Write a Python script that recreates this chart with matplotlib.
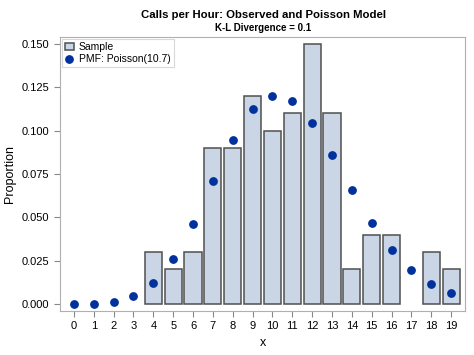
import matplotlib
matplotlib.use('Agg')
import matplotlib.pyplot as plt
import numpy as np

plt.rcParams['font.family'] = ['Liberation Sans', 'DejaVu Sans']

# datos
x = list(range(20))
sample = [0, 0, 0, 0, 0.03, 0.02, 0.03, 0.09, 0.09, 0.12,
          0.10, 0.11, 0.15, 0.11, 0.02, 0.04, 0.04, 0, 0.03, 0.02]
pmf = [0.0000, 0.0002, 0.0012, 0.0045, 0.0121, 0.0259, 0.0463, 0.0707, 0.0945, 0.1123,
       0.1202, 0.1168, 0.1042, 0.0858, 0.0656, 0.0468, 0.0313, 0.0197, 0.0117, 0.0066]

fig = plt.figure(figsize=(4.74, 3.55), dpi=100)
ax = fig.add_axes([0.1266, 0.124, 0.8544, 0.772])

bars = [(xi, s) for xi, s in zip(x, sample) if s > 0]
hb = ax.bar([b[0] for b in bars], [b[1] for b in bars], width=0.86,
            color='#CAD5E5', edgecolor='#505050', linewidth=1.1, label='Sample', zorder=2)
hp = ax.scatter(x, pmf, s=28, color='#00319C', zorder=3, label='PMF: Poisson(10.7)')

ax.set_xlim(-0.7, 19.7)
ax.set_ylim(-0.004, 0.154)
ax.set_xticks(x)
ax.set_yticks([0, 0.025, 0.05, 0.075, 0.1, 0.125, 0.15])
ax.set_yticklabels(['%.3f' % v for v in ax.get_yticks()])
ax.tick_params(labelsize=8, color='#888888', length=4)
for s in ax.spines.values():
    s.set_color('#B0B0B0')

ax.set_xlabel('x', fontsize=9)
ax.set_ylabel('Proportion', fontsize=9)

leg = ax.legend([hb, hp], ['Sample', 'PMF: Poisson(10.7)'], loc='upper left',
                fontsize=7.5, frameon=True, fancybox=False,
                borderpad=0.3, handlelength=0.8, handletextpad=0.5, labelspacing=0.2,
                borderaxespad=0.2)
leg.get_frame().set_edgecolor('#D0D0D0')
leg.get_frame().set_linewidth(0.8)

fig.text(0.555, 0.958, 'Calls per Hour: Observed and Poisson Model', ha='center',
         va='center', fontsize=8.2, fontweight='bold')
fig.text(0.555, 0.922, 'K-L Divergence = 0.1', ha='center', va='center',
         fontsize=7, fontweight='bold')

plt.savefig('out.png')
